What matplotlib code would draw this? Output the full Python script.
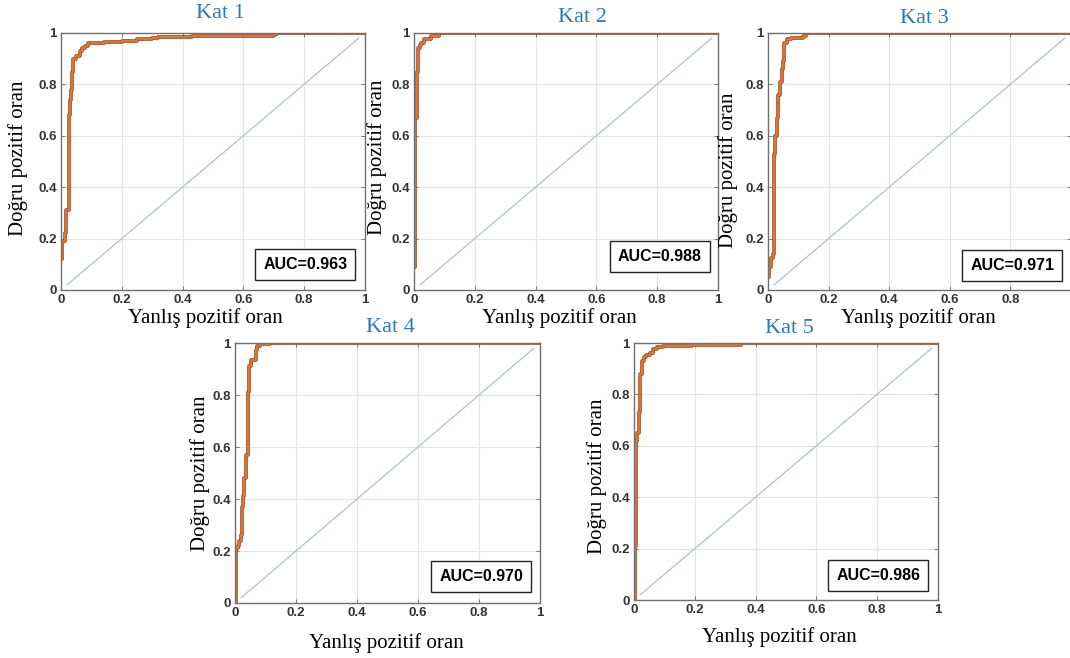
import matplotlib
matplotlib.use("Agg")
import matplotlib.pyplot as plt

# ROC step points (fpr, tpr), one pair of lists per fold
fpr_k1 = [0, 0.004, 0.012, 0.018, 0.026, 0.029, 0.033, 0.036, 0.040, 0.048, 0.062, 0.068, 0.080, 0.090, 0.14, 0.20, 0.25, 0.30, 0.32, 0.43, 0.70, 0.71, 1.0]
tpr_k1 = [0.12, 0.19, 0.22, 0.31, 0.68, 0.74, 0.78, 0.85, 0.90, 0.91, 0.93, 0.94, 0.95, 0.96, 0.965, 0.97, 0.975, 0.98, 0.985, 0.99, 0.995, 1.0, 1.0]

fpr_k2 = [0, 0.002, 0.004, 0.010, 0.014, 0.019, 0.024, 0.032, 0.055, 0.082, 0.095, 1.0]
tpr_k2 = [0.09, 0.41, 0.67, 0.85, 0.94, 0.955, 0.96, 0.975, 0.99, 1.0, 1.0, 1.0]

fpr_k3 = [0, 0.003, 0.009, 0.016, 0.020, 0.024, 0.029, 0.033, 0.040, 0.045, 0.050, 0.054, 0.063, 0.077, 0.115, 0.126, 1.0]
tpr_k3 = [0.05, 0.09, 0.125, 0.14, 0.53, 0.60, 0.67, 0.76, 0.81, 0.86, 0.89, 0.96, 0.975, 0.98, 0.99, 1.0, 1.0]

fpr_k4 = [0, 0.002, 0.005, 0.009, 0.013, 0.019, 0.022, 0.026, 0.031, 0.036, 0.042, 0.046, 0.052, 0.069, 0.073, 0.082, 0.115, 1.0]
tpr_k4 = [0.0, 0.09, 0.21, 0.22, 0.24, 0.26, 0.37, 0.41, 0.48, 0.57, 0.81, 0.91, 0.935, 0.975, 0.99, 0.995, 1.0, 1.0]

fpr_k5 = [0, 0.002, 0.007, 0.011, 0.016, 0.021, 0.026, 0.034, 0.041, 0.052, 0.063, 0.076, 0.095, 0.19, 0.353, 1.0]
tpr_k5 = [0.0, 0.21, 0.62, 0.65, 0.73, 0.88, 0.93, 0.945, 0.955, 0.96, 0.975, 0.985, 0.99, 0.992, 1.0, 1.0]

titles = ["Kat 1", "Kat 2", "Kat 3", "Kat 4", "Kat 5"]
auc_vals = ["0.963", "0.988", "0.971", "0.970", "0.986"]
ticks = [0, 0.2, 0.4, 0.6, 0.8, 1]
tick_labels = ["0", "0.2", "0.4", "0.6", "0.8", "1"]

curves = [(fpr_k1, tpr_k1), (fpr_k2, tpr_k2), (fpr_k3, tpr_k3), (fpr_k4, tpr_k4), (fpr_k5, tpr_k5)]

# axes rectangles [left, bottom, width, height] in figure fraction
rects = [
    [0.057, 0.5593, 0.284, 0.3906],
    [0.3869, 0.5593, 0.284, 0.3906],
    [0.7178, 0.5593, 0.283, 0.3906],
    [0.2196, 0.0836, 0.285, 0.395],
    [0.5925, 0.0881, 0.284, 0.3906],
]
title_pos = [(0.206, 0.979), (0.544, 0.974), (0.864, 0.972), (0.3645, 0.503), (0.738, 0.501)]
xlab_pos = [(0.474, -0.109), (0.48, -0.109), (0.495, -0.109), (0.498, -0.154), (0.48, -0.144)]
ylab_pos = [(-0.141, 0.514), (-0.122, 0.517), (-0.132, 0.467), (-0.115, 0.5), (-0.122, 0.482)]
auc_pos = [(0.804, 0.099), (0.809, 0.130), (0.807, 0.095), (0.807, 0.102), (0.804, 0.097)]

serif = "Liberation Serif"
sans = "Liberation Sans"

fig = plt.figure(figsize=(10.7, 6.58), dpi=100)

for i in range(5):
    ax = fig.add_axes(rects[i])
    fpr, tpr = curves[i]
    ax.plot([0.02, 0.98], [0.02, 0.98], color="#a9c3cf", lw=0.9)
    ax.step(fpr, tpr, where="post", color="#9a4520", lw=2.6)
    ax.step(fpr, tpr, where="post", color="#dc7434", lw=1.6)
    ax.set_xlim(0, 1)
    ax.set_ylim(0, 1)
    ax.set_xticks(ticks)
    ax.set_yticks(ticks)
    xl = list(tick_labels)
    if i == 2:
        xl[-1] = ""  # last label falls off the page in the original
    ax.set_xticklabels(xl, fontfamily=sans, fontweight="bold", fontsize=9.5, color="#333333")
    ax.set_yticklabels(tick_labels, fontfamily=sans, fontweight="bold", fontsize=9.5, color="#333333")
    ax.tick_params(direction="in", length=3, width=0.6, color="#666666", pad=3, top=True, right=True)
    ax.grid(True, color="#e3e3e3", lw=0.8)
    ax.set_axisbelow(True)
    for s in ax.spines.values():
        s.set_color("#707070")
        s.set_linewidth(1.0)

    ax.set_xlabel("Yanlış pozitif oran", fontfamily=serif, fontsize=15, va="center", ha="center")
    ax.xaxis.set_label_coords(*xlab_pos[i])
    ax.set_ylabel("Doğru pozitif oran", fontfamily=serif, fontsize=15, va="center", ha="center")
    ax.yaxis.set_label_coords(*ylab_pos[i])

    ax.text(auc_pos[i][0], auc_pos[i][1], "AUC=" + auc_vals[i], transform=ax.transAxes,
            ha="center", va="center", fontfamily=sans, fontweight="bold", fontsize=11.5,
            bbox=dict(boxstyle="square,pad=0.5", facecolor="white", edgecolor="#222222", lw=1.0))

    fig.text(title_pos[i][0], title_pos[i][1], titles[i], ha="center", va="center",
             fontfamily=serif, fontsize=16, color="#2a7ab8")

fig.savefig("out.png", dpi=100)
